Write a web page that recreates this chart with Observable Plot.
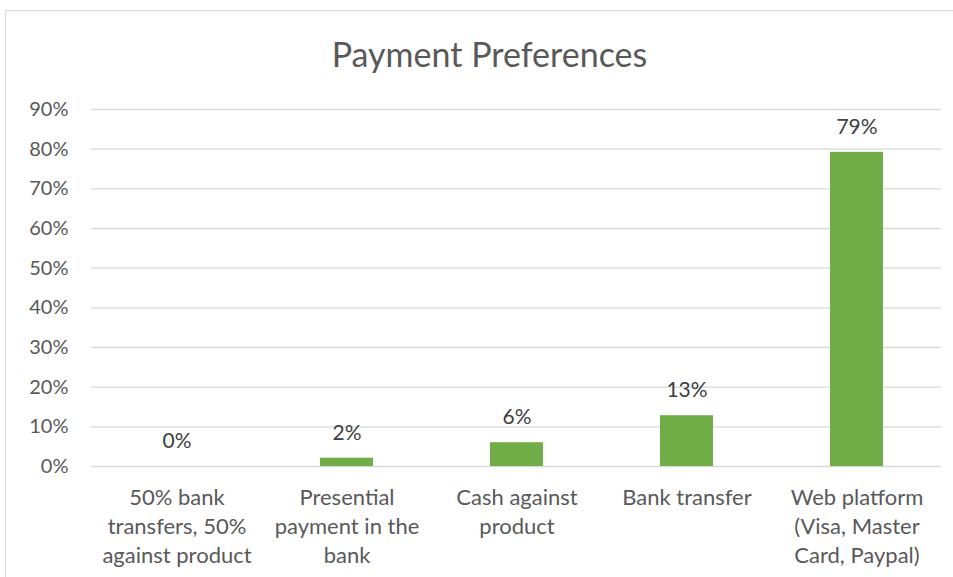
<!DOCTYPE html>
<html>
<head>
<meta charset="utf-8">
<script src="https://cdn.jsdelivr.net/npm/d3@7"></script>
<script src="https://cdn.jsdelivr.net/npm/@observablehq/plot@0.6"></script>
<style>
  html, body { margin: 0; padding: 0; background: #fff; }
  #frame { position: absolute; left: 5px; top: 10px; width: 1000px; height: 700px; border: 1px solid #d9d9d9; box-sizing: border-box; }
  #title { position: absolute; left: 0; top: 33px; width: 979px; text-align: center; font-family: Lato, sans-serif; font-size: 34px; color: #595959; z-index: 2; }
  #chart { position: absolute; left: 0; top: 0; }
</style>
</head>
<body>
<div id="frame"></div>
<div id="title">Payment Preferences</div>
<div id="chart"></div>
<script>
const categories = ["c1", "c2", "c3", "c4", "c5"];
const categoryLabels = [
  "50% bank\ntransfers, 50%\nagainst product",
  "Presential\npayment in the\nbank",
  "Cash against\nproduct",
  "Bank transfer",
  "Web platform\n(Visa, Master\nCard, Paypal)"
];
const values = [0.00, 0.021, 0.06, 0.128, 0.792];
const valueLabels = ["0%", "2%", "6%", "13%", "79%"];
const yTicks = [0, 0.1, 0.2, 0.3, 0.4, 0.5, 0.6, 0.7, 0.8, 0.9];

const data = categories.map((c, i) => ({cat: c, value: values[i], label: valueLabels[i]}));
const labelOf = Object.fromEntries(categories.map((c, i) => [c, categoryLabels[i]]));

const chart = Plot.plot({
  width: 953,
  height: 577,
  marginTop: 109,
  marginBottom: 111,
  marginLeft: 91,
  marginRight: 12,
  style: {fontFamily: "Lato, sans-serif", fontSize: "20px", color: "#595959", background: "transparent"},
  x: {domain: categories, paddingInner: 0.69, paddingOuter: 0.345, align: 0.5, label: null},
  y: {domain: [0, 0.9], label: null},
  marks: [
    Plot.gridY(yTicks, {stroke: "#d9d9d9", strokeOpacity: 1, strokeWidth: 1.3}),
    Plot.axisY(yTicks, {tickSize: 0, tickPadding: 23, tickFormat: d => Math.round(d * 100) + "%", fontSize: 20, fill: "#595959", label: null}),
    Plot.axisX({tickSize: 0, tickPadding: 18, tickFormat: d => labelOf[d], fontSize: 22, lineHeight: 1.32, fill: "#595959", lineAnchor: "top", label: null}),
    Plot.barY(data, {x: "cat", y: "value", fill: "#70ad47"}),
    Plot.text(data, {x: "cat", y: "value", text: "label", dy: -25, fontSize: 21, fill: "#404040", lineAnchor: "middle"})
  ]
});
document.getElementById("chart").appendChild(chart);
</script>
</body>
</html>
